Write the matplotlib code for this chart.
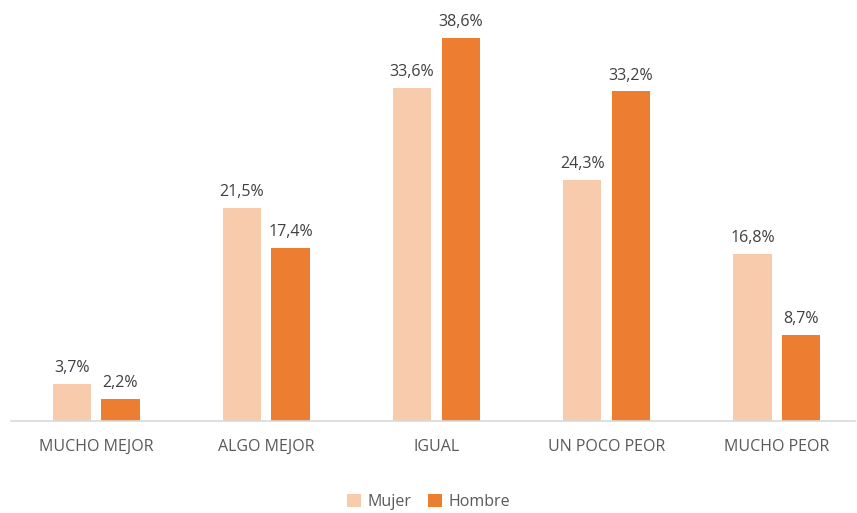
import numpy as np
import matplotlib.pyplot as plt

categorias = ['MUCHO MEJOR', 'ALGO MEJOR', 'IGUAL', 'UN POCO PEOR', 'MUCHO PEOR']
mujer = [3.7, 21.5, 33.6, 24.3, 16.8]
hombre = [2.2, 17.4, 38.6, 33.2, 8.7]
series = ['Mujer', 'Hombre']

plt.rcParams['font.family'] = ['Open Sans', 'DejaVu Sans']

fig = plt.figure(figsize=(8.57, 5.13), dpi=100)
ax = fig.add_axes([11 / 857, 92 / 513, 844 / 857, 397 / 513])

x = np.arange(len(categorias))
w = 0.225
b1 = ax.bar(x - 0.143, mujer, w, color='#F8CBAD', label=series[0])
b2 = ax.bar(x + 0.143, hombre, w, color='#ED7D31', label=series[1])

# etiquetas de valor encima de cada barra
for bars, vals in ((b1, mujer), (b2, hombre)):
    for rect, v in zip(bars, vals):
        ax.text(rect.get_x() + rect.get_width() / 2, v + 0.8,
                f'{v:.1f}%'.replace('.', ','), ha='center', va='bottom',
                fontsize=11.5, color='#404040')

ax.set_xlim(-0.5, 4.46)
ax.set_ylim(0, 40)
ax.set_xticks(x)
ax.set_xticklabels(categorias, fontsize=11.5, color='#595959')
ax.tick_params(axis='x', length=0, pad=13)
ax.set_yticks([])
for s in ['top', 'right', 'left']:
    ax.spines[s].set_visible(False)
ax.spines['bottom'].set_color('#D9D9D9')
ax.spines['bottom'].set_linewidth(1.2)

leg = fig.legend(loc='lower center', bbox_to_anchor=(0.5, -0.022), ncol=2,
                 frameon=False, fontsize=11.5, handlelength=0.9, handleheight=0.9,
                 handletextpad=0.4, columnspacing=1.0)
for t in leg.get_texts():
    t.set_color('#595959')

fig.savefig('out.png', dpi=100)
